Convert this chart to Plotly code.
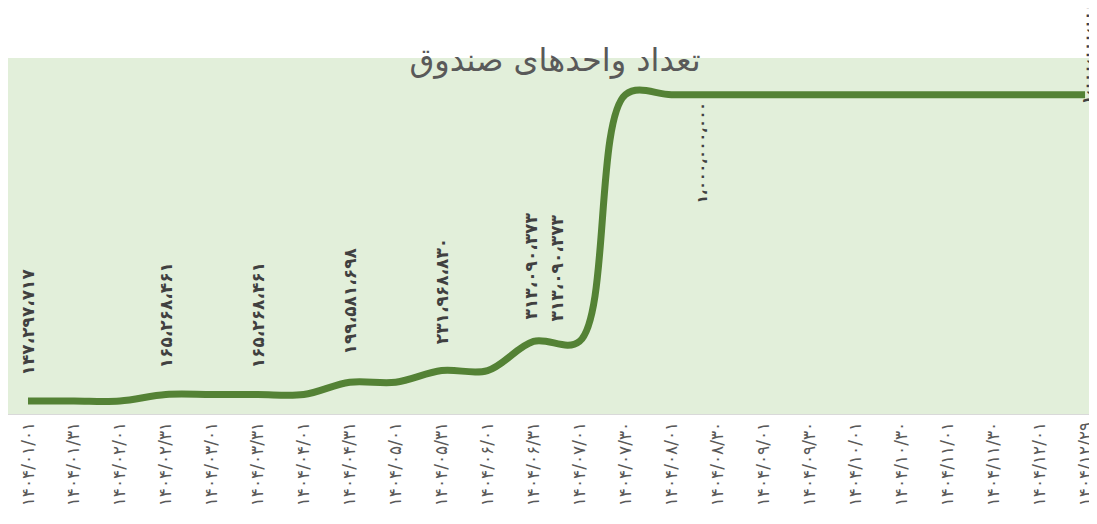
import plotly.graph_objects as go

def fa(s):
    return s.translate(str.maketrans("0123456789", "۰۱۲۳۴۵۶۷۸۹"))

dates = ["1404/01/01", "1404/01/31", "1404/02/01", "1404/02/31", "1404/03/01", "1404/03/31",
         "1404/04/01", "1404/04/31", "1404/05/01", "1404/05/31", "1404/06/01", "1404/06/31",
         "1404/07/01", "1404/07/30", "1404/08/01", "1404/08/30", "1404/09/01", "1404/09/30",
         "1404/10/01", "1404/10/30", "1404/11/01", "1404/11/30", "1404/12/01", "1404/12/29"]
categories = [fa(d) for d in dates]

units = [147297717, 147297717, 147297717, 165268461, 165268461, 165268461,
         165268461, 199581698, 199581698, 231968830, 231968830, 313090373,
         313090373, 1000000000, 1000000000, 1000000000, 1000000000, 1000000000,
         1000000000, 1000000000, 1000000000, 1000000000, 1000000000, 1000000000]

# indices of points carrying a data label, with (anchor, xshift, yshift, font size)
label_points = [0, 3, 5, 7, 9, 11, 12, 15, 23]
label_style = {
    0: ("bottom", 0, 24, 17), 3: ("bottom", 0, 24, 17), 5: ("bottom", 0, 24, 17),
    7: ("bottom", 0, 26, 17), 9: ("bottom", 0, 24, 17), 11: ("bottom", -3, 20, 17),
    12: ("bottom", -23, 18, 17), 15: ("top", -15, -6, 14), 23: ("bottom", 2, -12, 14),
}

title_text = "تعداد واحدهای صندوق"
FONT = "DejaVu Sans"

# page body has an 8px default margin: the figure is sized to fill the rest
W, H = 1089, 516

fig = go.Figure()
fig.add_trace(go.Scatter(
    x=categories, y=units, mode="lines",
    line=dict(color="#548235", width=7, shape="spline", smoothing=1.0),
    hoverinfo="skip", showlegend=False,
))

for i in label_points:
    anchor, xs, ys, fs = label_style[i]
    fig.add_annotation(
        x=categories[i], y=units[i], xref="x", yref="y",
        text="<b>" + fa(f"{units[i]:,}").replace(",", "،") + "</b>",
        textangle=-90, showarrow=False,
        yanchor=anchor, xanchor="center", xshift=xs, yshift=ys,
        font=dict(family=FONT, size=fs, color="#404040"),
    )

fig.update_layout(
    width=W, height=H,
    margin=dict(l=0, r=0, t=50, b=110, autoexpand=False),
    paper_bgcolor="white", plot_bgcolor="#E2EFDA",
    title=dict(text=title_text, x=547 / W, xanchor="center",
               y=1 - 52 / H, yanchor="middle",
               font=dict(family=FONT, size=32, color="#595959")),
    xaxis=dict(type="category", range=[-0.435, 23.26], tickangle=-90, automargin=False,
               showgrid=False, zeroline=False, showline=True, linecolor="#D9D9D9",
               linewidth=1, ticks="", tickfont=dict(family=FONT, size=17, color="#595959")),
    yaxis=dict(range=[111e6, 1102e6], visible=False, showgrid=False, zeroline=False,
               automargin=False),
)

fig.write_html("out.html")
